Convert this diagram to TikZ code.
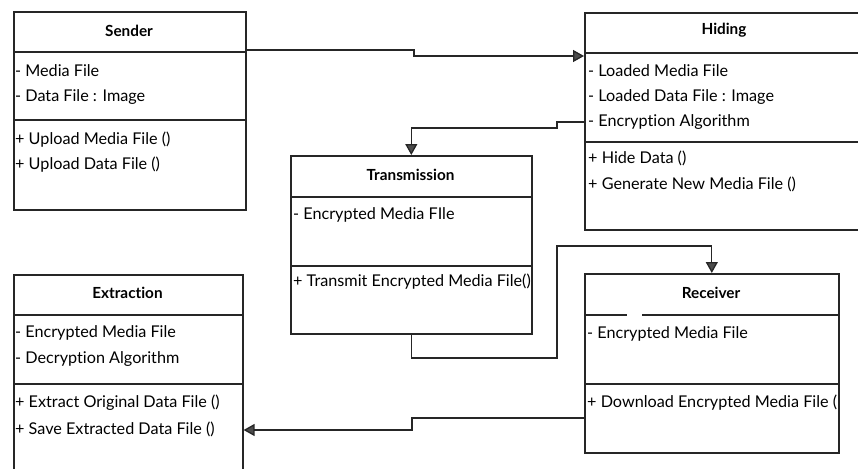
\documentclass[tikz,border=0pt]{standalone}
\usepackage{fontspec}
\setmainfont{Lato}[Ligatures=CommonOff]
\usetikzlibrary{arrows.meta}
\begin{document}
\begin{tikzpicture}[x=1pt,y=-1pt,
  umlbox/.style={draw=black!85,line width=1.6pt,rectangle,inner sep=0pt,anchor=north west},
  divider/.style={draw=black!85,line width=1.6pt},
  title/.style={font=\fontsize{15.3}{17}\selectfont\bfseries,inner sep=0pt,anchor=center},
  item/.style={font=\fontsize{16.2}{18}\selectfont,inner sep=0pt,anchor=west},
  conn/.style={draw=black!85,line width=1.3pt,-{Triangle[length=11pt,width=12pt,fill=black!70]}},
  plain/.style={draw=black!85,line width=1.3pt}]
\useasboundingbox (0,0) rectangle (858,468);
\clip (0,0) rectangle (858,468);
% Sender
\node[umlbox,minimum width=232pt,minimum height=198pt] (sender) at (13,11) {};
\draw[divider] (13,52) -- (245,52);
\draw[divider] (13,120) -- (245,120);
\node[title] (sendert) at (129,31) {Sender};
\node[item] (s1) at (15,71) {- Media File};
\node[item] (s2) at (15,97) {- Data File : Image};
\node[item] (s3) at (15,140) {+ Upload Media File ()};
\node[item] (s4) at (15,165) {+ Upload Data File ()};
% Hiding
\node[umlbox,minimum width=280pt,minimum height=217pt] (hiding) at (584,12) {};
\draw[divider] (584,53) -- (864,53);
\draw[divider] (584,142) -- (864,142);
\node[title] (hidingt) at (724,30) {Hiding};
\node[item] (h1) at (588,71) {- Loaded Media File};
\node[item] (h2) at (588,97) {- Loaded Data File : Image};
\node[item] (h3) at (588,122) {- Encryption Algorithm};
\node[item] (h4) at (588,158) {+ Hide Data ()};
\node[item] (h5) at (588,184) {+ Generate New Media File ()};
% Transmission
\node[umlbox,minimum width=241pt,minimum height=178pt] (trans) at (290,155) {};
\draw[divider] (290,197) -- (531,197);
\draw[divider] (290,266) -- (531,266);
\node[title] (transt) at (410.5,175) {Transmission};
\node[item] (t1) at (293,215) {- Encrypted Media FIle};
\node[item] (t2) at (293,282) {+ Transmit Encrypted Media File()};
% Extraction
\node[umlbox,minimum width=229pt,minimum height=220pt] (extr) at (13,274) {};
\draw[divider] (13,315) -- (242,315);
\draw[divider] (13,384) -- (242,384);
\node[title] (extrt) at (127.5,293) {Extraction};
\node[item] (e1) at (15,333) {- Encrypted Media File};
\node[item] (e2) at (15,359) {- Decryption Algorithm};
\node[item] (e3) at (15,403) {+ Extract Original Data File ()};
\node[item] (e4) at (15,429) {+ Save Extracted Data File ()};
% Receiver
\node[umlbox,minimum width=254pt,minimum height=179pt] (recv) at (584,273) {};
\draw[divider] (584,315) -- (627,315);
\draw[divider] (642,315) -- (838,315);
\draw[divider] (584,384) -- (838,384);
\node[title] (recvt) at (711,293) {Receiver};
\node[item] (r1) at (587,334) {- Encrypted Media File};
\begin{scope}
\clip (584,390) rectangle (836,420);
\node[item] (r2) at (587,403) {+ Download Encrypted Media File ()};
\end{scope}
% connectors
\draw[conn] ([yshift=-39pt]sender.north east) -| (414,56) -- ([yshift=-44pt]hiding.north west);
\draw[conn] ([yshift=-110pt]hiding.north west) -| (557,128) -| (trans.north);
\draw[conn] (trans.south) |- (557,358) |- ([yshift=27pt]recv.north) -- (recv.north);
\draw[conn] ([yshift=-145pt]recv.north west) -| (412,430) -- ([yshift=-156pt]extr.north east);
\end{tikzpicture}
\end{document}
